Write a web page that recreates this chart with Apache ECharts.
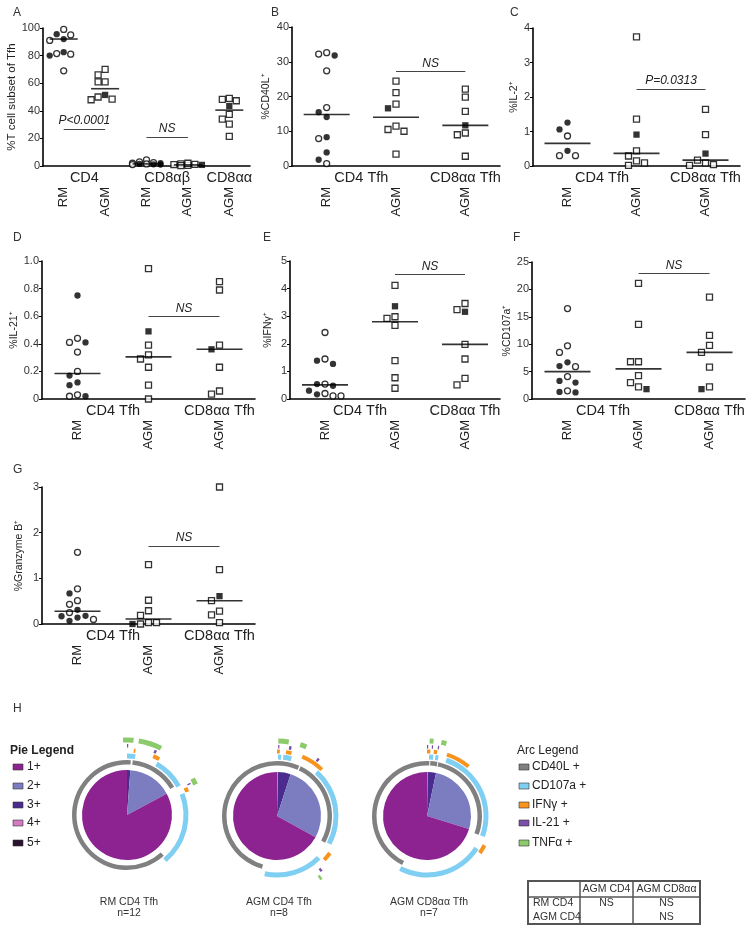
<!DOCTYPE html>
<html><head><meta charset="utf-8">
<script src="https://cdn.jsdelivr.net/npm/echarts@6/dist/echarts.min.js"></script>
<style>html,body{margin:0;padding:0;background:#fff}#c{width:754px;height:933px}</style>
</head><body><div id="c"></div><script>
// ---------------- DATA ----------------
const catsA = ['RM','AGM','RM','AGM','AGM'];
const groupsA = ['CD4','CD8αβ','CD8αα'];
const cats3 = ['RM','AGM','AGM'];
const groups3 = ['CD4 Tfh','CD8αα Tfh'];

const A_open   = [[99,95,91,81,81.5,69],[70,66,61,61,50,48,48.5],[4.5,3,2,1.5,2.5,1],[1,0.5,1.2,2,1.5,0.3],[49,47.3,48.3,37.4,34,30.3,21.4]];
const A_filled = [[95.5,92,80,82.5],[51.5],[1.5,1,2,1.2],[0.8],[43.5]];
const A_median = [92,56,1.5,0.8,40.5];

const B_open   = [[32.6,32.2,27.4,16.8,7.9,0.7],[24.4,21.1,17.8,11.5,10.5,10,3.4],[22.1,19.8,15.7,9.5,9,2.8]];
const B_filled = [[31.8,15.5,14.1,8.3,3.9,1.8],[16.6],[11.7]];
const B_median = [14.8,14.05,11.7];

const C_open   = [[0.87,0.30,0.30],[3.74,1.36,0.44,0.29,0.15,0.02,0.09],[1.64,0.91,0.17,0.09,0.02,0.04]];
const C_filled = [[1.26,1.06,0.44],[0.91],[0.36]];
const C_median = [0.655,0.365,0.17];

const D_open   = [[0.44,0.41,0.34,0.20,0.03,0.02],[0.945,0.39,0.32,0.29,0.23,0.10,0.0],[0.85,0.79,0.39,0.23,0.036,0.058]];
const D_filled = [[0.75,0.41,0.17,0.12,0.10,0.02],[0.49],[0.36]];
const D_median = [0.185,0.305,0.36];

const E_open   = [[2.41,1.45,0.54,0.11,0.11,0.2],[4.12,2.92,2.98,2.67,1.39,0.77,0.39],[3.46,3.24,1.98,1.45,0.75,0.51]];
const E_filled = [[1.27,1.39,0.48,0.54,0.30,0.17],[3.36],[3.16]];
const E_median = [0.51,2.8,1.98];

const F_open   = [[16.5,9.7,8.5,5.9,4.1,1.5],[21.1,13.6,6.8,6.8,4.25,3.0,2.2],[18.6,11.6,9.8,8.5,5.8,2.2]];
const F_filled = [[6.7,6.0,3.3,3.0,1.2,1.3],[1.8],[1.8]];
const F_median = [5.0,5.5,8.5];

const G_open   = [[1.57,0.77,0.51,0.43,0.25,0.10],[1.30,0.52,0.29,0.19,0.03,0.0,0.03],[3.0,1.19,0.51,0.28,0.20,0.03]];
const G_filled = [[0.67,0.31,0.18,0.14,0.07,0.17],[0.0],[0.61]];
const G_median = [0.28,0.11,0.51];

// significance annotations: [fromCategory, toCategory, level, text]
const A_ann = [[0,1,26.8,'P<0.0001'],[2,3,21,'NS']];
const B_ann = [[1,2,27.2,'NS']];
const C_ann = [[1,2,2.23,'P=0.0313']];
const D_ann = [[1,2,0.60,'NS']];
const E_ann = [[1,2,4.52,'NS']];
const F_ann = [[1,2,22.9,'NS']];
const G_ann = [[1,2,1.71,'NS']];

const yNames = ['%T cell subset of Tfh','%CD40L⁺','%IL-2⁺','%IL-21⁺','%IFNγ⁺','%CD107a⁺','%Granzyme B⁺'];
const yMax = [100,40,4,1,5,25,3];
const yStep = [20,10,1,0.2,1,5,1];
const panelLetters = ['A','B','C','D','E','F','G','H'];

// Panel H
const pieLabels = ['1+','2+','3+','4+','5+'];
const pieNames = ['RM CD4 Tfh','AGM CD4 Tfh','AGM CD8αα Tfh'];
const pieN = ['n=12','n=8','n=7'];
const pieShares = [[82.8,16.0,1.2,0,0],[67.0,28.0,4.6,0.4,0],[70.2,26.5,3.0,0.3,0]];
const arcLabels = ['CD40L +','CD107a +','IFNγ +','IL-21 +','TNFα +'];
// arc extents in degrees clockwise from 12 o'clock, per pie, per function
const arcSegs = [
  [[[0,4],[6,59],[138,360]], [[0,8],[30,61],[69,140]], [[6,7.5],[24,30],[65,69]], [[0,1],[23,25],[63,64]], [[0,5],[9,27],[61,66],[357,360]]],
  [[[0,24],[25.5,119],[196,360]], [[1,4],[6,14],[42,118],[135,192]], [[0,2.5],[8,13],[23,44],[125,133]], [[1,2],[10,12],[35,37],[140,142]], [[1,9],[18,23],[144,146]]],
  [[[0,2.5],[3.5,11],[12,110],[207,360]], [[2,6],[8,11],[19,110],[123,207]], [[0,3],[6,9],[18,40],[117,125]], [[0,1],[4,5],[9,10]], [[2,5],[11,15]]]
];
const tableCols = ['AGM CD4','AGM CD8αα'];
const tableRows = ['RM CD4','AGM CD4'];
const tableCells = [['NS','NS'],['','NS']];

// ---------------- STYLE / LAYOUT ----------------
const FONT = 'Liberation Sans, Arial, sans-serif';
const pieColors = ['#8C2390','#7B7DC0','#4B2B8F','#D27BC4','#2A1130'];
const arcColors = ['#808080','#7FCFF2','#F7941E','#7B4FA8','#8CCB6B'];
const arcRadii = [[50.5,55],[56.5,61.5],[62.5,66.5],[67.5,71],[72.5,77.5]];
const pieCenters = [[127,815],[277,816],[427,816]];
const pieRadius = [45,44,44];

const panels = [
  {grid:{left:43,top:28,width:207,height:138}, cats:catsA, groups:groupsA, gpos:[2,6,9], glen:11, open:A_open, filled:A_filled, med:A_median, ann:A_ann, medW:28, s:7, minD:6.5, maxK:4, nameGap:21, letter:[13,13]},
  {grid:{left:292,top:27,width:208,height:139}, cats:cats3, groups:groups3, gpos:[2,5], glen:7, open:B_open, filled:B_filled, med:B_median, ann:B_ann, medW:46, s:8, minD:7.5, maxK:20, nameGap:20, letter:[271,13]},
  {grid:{left:533,top:28,width:207,height:138}, cats:cats3, groups:groups3, gpos:[2,5], glen:7, open:C_open, filled:C_filled, med:C_median, ann:C_ann, medW:46, s:8, minD:7.5, maxK:20, nameGap:13, letter:[510,13]},
  {grid:{left:42,top:261,width:213,height:138}, cats:cats3, groups:groups3, gpos:[2,5], glen:7, open:D_open, filled:D_filled, med:D_median, ann:D_ann, medW:46, s:8, minD:7.5, maxK:20, nameGap:22, letter:[13,238]},
  {grid:{left:290,top:261,width:210,height:138}, cats:cats3, groups:groups3, gpos:[2,5], glen:7, open:E_open, filled:E_filled, med:E_median, ann:E_ann, medW:46, s:8, minD:7.5, maxK:20, nameGap:16, letter:[263,238]},
  {grid:{left:532,top:262,width:213,height:137}, cats:cats3, groups:groups3, gpos:[2,5], glen:7, open:F_open, filled:F_filled, med:F_median, ann:F_ann, medW:46, s:8, minD:7.5, maxK:20, nameGap:19, letter:[513,238]},
  {grid:{left:42,top:487,width:213,height:137}, cats:cats3, groups:groups3, gpos:[2,5], glen:7, open:G_open, filled:G_filled, med:G_median, ann:G_ann, medW:46, s:8, minD:7.5, maxK:20, nameGap:17, letter:[13,470]}
];

// simple beeswarm layout (pixel offsets) computed from values; limited width
function swarm(points, pxPer, s, minD, maxK){
  const order = points.map((p,i)=>i).sort((a,b)=>points[b].v-points[a].v);
  const placed = []; const offs = new Array(points.length).fill(0);
  for (const i of order){
    const y = points[i].v*pxPer;
    let best = 0, bestD = -1;
    for (let k=0;k<=maxK;k++){
      const dx = k===0?0:(k%2?-1:1)*Math.ceil(k/2)*s;
      const d = placed.length ? Math.min(...placed.map(p=>Math.hypot(p.x-dx,p.y-y))) : Infinity;
      if (d>=minD){best=dx;bestD=d;break;}
      if (d>bestD){bestD=d;best=dx;}
    }
    offs[i]=best; placed.push({x:best,y});
  }
  return offs;
}

const grids=[], xAxes=[], yAxes=[], series=[], graphics=[];
panels.forEach((P,pi)=>{
  grids.push(P.grid);
  xAxes.push({type:'category', gridIndex:pi, data:P.cats, boundaryGap:true,
    axisLine:{lineStyle:{color:'#000',width:1.6}}, axisTick:{show:false},
    axisLabel:{interval:0, rotate:90, margin:21, fontSize:13, color:'#222', fontFamily:FONT}, splitLine:{show:false}});
  const gdata = new Array(P.glen).fill('');
  P.gpos.forEach((g,i)=>gdata[g]=P.groups[i]);
  xAxes.push({type:'category', gridIndex:pi, data:gdata, boundaryGap:false, position:'bottom',
    axisLine:{show:false}, axisTick:{show:false},
    axisLabel:{interval:0, margin:4, fontSize:14.5, color:'#222', fontFamily:FONT}, splitLine:{show:false}});
  yAxes.push({type:'value', gridIndex:pi, min:0, max:yMax[pi], interval:yStep[pi],
    axisLine:{show:true, lineStyle:{color:'#000',width:1.6}},
    axisTick:{show:true, length:3, lineStyle:{color:'#000',width:1}},
    axisLabel:{fontSize:11, color:'#333', margin:3, fontFamily:FONT,
      formatter: v => (pi===3 ? (v===0?'0':v.toFixed(1)) : String(v))},
    splitLine:{show:false},
    name:yNames[pi], nameLocation:'middle', nameGap:P.nameGap,
    nameTextStyle:{fontSize:pi===0?11.5:10.5, color:'#222', fontFamily:FONT}});
  const pxPer = P.grid.height / yMax[pi];
  const openData=[], filledData=[];
  P.cats.forEach((c,ci)=>{
    const pts = P.open[ci].map(v=>({v,f:false})).concat(P.filled[ci].map(v=>({v,f:true})));
    const offs = swarm(pts, pxPer, P.s, P.minD, P.maxK);
    pts.forEach((p,k)=>{
      const item = {value:[ci,p.v], symbol: c==='RM'?'circle':'rect', symbolOffset:[offs[k],0]};
      (p.f?filledData:openData).push(item);
    });
  });
  series.push({type:'scatter', xAxisIndex:2*pi, yAxisIndex:pi, data:openData, symbolSize:6,
    itemStyle:{color:'#fff', borderColor:'#000', borderWidth:1.3}, silent:true, z:3});
  series.push({type:'scatter', xAxisIndex:2*pi, yAxisIndex:pi, data:filledData, symbolSize:6.3,
    itemStyle:{color:'#000'}, silent:true, z:4});
  series.push({type:'scatter', xAxisIndex:2*pi, yAxisIndex:pi, silent:true, z:5,
    data:P.med.map((m,ci)=>[ci,m]), symbol:'rect', symbolSize:[P.medW,1.6], itemStyle:{color:'#000'},
    markLine:{silent:true, symbol:'none', animation:false,
      lineStyle:{color:'#444', width:1.1, type:'solid'},
      label:{show:true, position:'insideMiddleTop', distance:2, fontSize:12, fontStyle:'italic', color:'#222', fontFamily:FONT,
        formatter: p => p.data.txt},
      data:P.ann.map(a=>[{coord:[a[0],a[2]], txt:a[3]},{coord:[a[1],a[2]]}])}});
  graphics.push({type:'text', left:P.letter[0], top:P.letter[1]-6, style:{text:panelLetters[pi], font:'12px '+FONT, fill:'#333'}});
});
graphics.push({type:'text', left:13, top:703, style:{text:panelLetters[7], font:'12px '+FONT, fill:'#333'}});

// pies + arcs
function ringData(segs,color){
  const s = segs.slice().sort((a,b)=>a[0]-b[0]); let cur=0; const out=[];
  s.forEach(([a,b])=>{ if(a>cur) out.push({value:a-cur, itemStyle:{color:'rgba(0,0,0,0)'}}); out.push({value:b-a, itemStyle:{color}}); cur=b; });
  if (cur<360) out.push({value:360-cur, itemStyle:{color:'rgba(0,0,0,0)'}});
  return out;
}
const pieCommon = {type:'pie', startAngle:90, clockwise:true, silent:true, label:{show:false}, labelLine:{show:false},
  emphasis:{disabled:true}, animation:false, avoidLabelOverlap:false, minAngle:0, stillShowZeroSum:true};
pieShares.forEach((sh,k)=>{
  const data = [];
  for (let i=4;i>=0;i--) data.push({name:pieLabels[i], value:sh[i], itemStyle:{color:pieColors[i]}});
  series.push(Object.assign({}, pieCommon, {center:pieCenters[k], radius:[0,pieRadius[k]], data}));
  arcSegs[k].forEach((segs,f)=>{
    series.push(Object.assign({}, pieCommon, {center:pieCenters[k], radius:arcRadii[f], data:ringData(segs, arcColors[f])}));
  });
  graphics.push({type:'text', x:pieCenters[k][0]+2, y:902, style:{text:pieNames[k], font:'10.5px '+FONT, fill:'#333', align:'center', verticalAlign:'middle'}});
  graphics.push({type:'text', x:pieCenters[k][0]+2, y:913, style:{text:pieN[k], font:'10.5px '+FONT, fill:'#333', align:'center', verticalAlign:'middle'}});
});

// legends
const legY = [767,786,805,823,843];
graphics.push({type:'text', x:10, y:751, style:{text:'Pie Legend', font:'bold 12px '+FONT, fill:'#222', verticalAlign:'middle'}});
pieLabels.forEach((l,i)=>{
  graphics.push({type:'rect', shape:{x:13,y:legY[i]-3,width:10,height:6}, style:{fill:pieColors[i], stroke:'#333', lineWidth:0.6}});
  graphics.push({type:'text', x:27, y:legY[i], style:{text:l, font:'12px '+FONT, fill:'#222', verticalAlign:'middle'}});
});
graphics.push({type:'text', x:517, y:751, style:{text:'Arc Legend', font:'12px '+FONT, fill:'#222', verticalAlign:'middle'}});
arcLabels.forEach((l,i)=>{
  graphics.push({type:'rect', shape:{x:519,y:legY[i]-3,width:10,height:6}, style:{fill:arcColors[i], stroke:'#333', lineWidth:0.6}});
  graphics.push({type:'text', x:532, y:legY[i], style:{text:l, font:'12px '+FONT, fill:'#222', verticalAlign:'middle'}});
});

// table
const tx=[528,580,633,700], ty=[881,897,924];
graphics.push({type:'rect', shape:{x:tx[0],y:ty[0],width:tx[3]-tx[0],height:ty[2]-ty[0]}, style:{fill:'#fff', stroke:'#555', lineWidth:2}});
graphics.push({type:'line', shape:{x1:tx[0],y1:ty[1],x2:tx[3],y2:ty[1]}, style:{stroke:'#555', lineWidth:1.5}});
graphics.push({type:'line', shape:{x1:tx[1],y1:ty[0],x2:tx[1],y2:ty[2]}, style:{stroke:'#555', lineWidth:1.5}});
graphics.push({type:'line', shape:{x1:tx[2],y1:ty[0],x2:tx[2],y2:ty[2]}, style:{stroke:'#555', lineWidth:1.5}});
tableCols.forEach((c,i)=>graphics.push({type:'text', x:(tx[i+1]+tx[i+2])/2, y:889, style:{text:c, font:'10.5px '+FONT, fill:'#333', align:'center', verticalAlign:'middle'}}));
tableRows.forEach((r,j)=>{
  const yy = 903 + j*14;
  graphics.push({type:'text', x:533, y:yy, style:{text:r, font:'10.5px '+FONT, fill:'#333', verticalAlign:'middle'}});
  tableCells[j].forEach((c,i)=>graphics.push({type:'text', x:(tx[i+1]+tx[i+2])/2, y:yy, style:{text:c, font:'10.5px '+FONT, fill:'#333', align:'center', verticalAlign:'middle'}}));
});

const chart = echarts.init(document.getElementById('c'), null, {renderer:'canvas'});
chart.setOption({animation:false, backgroundColor:'#fff', grid:grids, xAxis:xAxes, yAxis:yAxes, series, graphic:graphics});
</script></body></html>
